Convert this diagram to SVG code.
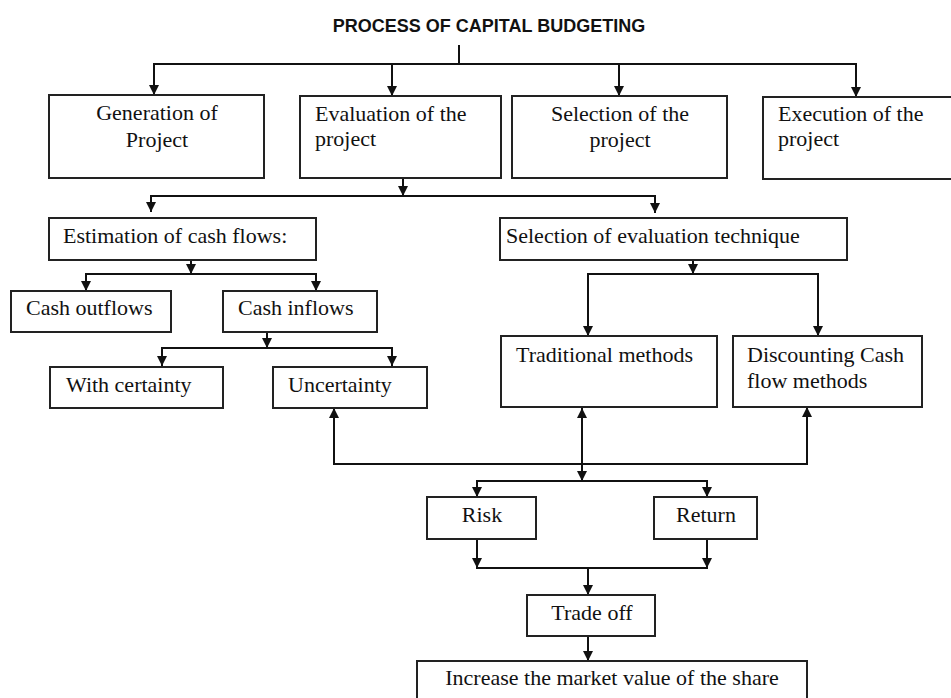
<svg xmlns="http://www.w3.org/2000/svg" width="951" height="698" viewBox="0 0 951 698">
<defs>
<marker id="ah" viewBox="0 0 10 10" refX="10" refY="5" markerWidth="10" markerHeight="10" markerUnits="userSpaceOnUse" orient="auto-start-reverse">
<path d="M0,0 L10,5 L0,10 z" fill="#111"/>
</marker>
<style>
.box{fill:#fff;stroke:#222;stroke-width:2}
.t{font-family:"Liberation Serif","Times New Roman",serif;font-size:22px;fill:#111}
.c{text-anchor:middle}
.ln{fill:none;stroke:#111;stroke-width:2}
.ar{fill:none;stroke:#111;stroke-width:2;marker-end:url(#ah)}
.title{font-family:"Liberation Sans",Arial,sans-serif;font-size:18px;font-weight:bold;fill:#111;text-anchor:middle}
</style>
</defs>
<rect width="951" height="698" fill="#fff"/>
<text class="title" x="489" y="32">PROCESS OF CAPITAL BUDGETING</text>

<g id="connectors">
<line class="ln" x1="459" y1="45" x2="459" y2="64"/>
<line class="ln" x1="153" y1="64" x2="857" y2="64"/>
<line class="ar" x1="154" y1="64" x2="154" y2="95"/>
<line class="ar" x1="392" y1="64" x2="392" y2="96"/>
<line class="ar" x1="619" y1="64" x2="619" y2="96"/>
<line class="ar" x1="856" y1="64" x2="856" y2="97"/>

<line class="ar" x1="403" y1="178" x2="403" y2="196"/>
<line class="ln" x1="150" y1="196" x2="656" y2="196"/>
<line class="ar" x1="151" y1="196" x2="151" y2="212"/>
<line class="ar" x1="655" y1="196" x2="655" y2="213"/>

<line class="ar" x1="191" y1="260" x2="191" y2="274"/>
<line class="ln" x1="85" y1="274" x2="317" y2="274"/>
<line class="ar" x1="86" y1="274" x2="86" y2="291"/>
<line class="ar" x1="316" y1="274" x2="316" y2="291"/>

<line class="ar" x1="267" y1="332" x2="267" y2="348"/>
<line class="ln" x1="161" y1="348" x2="393" y2="348"/>
<line class="ar" x1="162" y1="348" x2="162" y2="366"/>
<line class="ar" x1="392" y1="348" x2="392" y2="366"/>

<line class="ar" x1="693" y1="260" x2="693" y2="274"/>
<line class="ln" x1="587" y1="274" x2="819" y2="274"/>
<line class="ar" x1="588" y1="274" x2="588" y2="336"/>
<line class="ar" x1="818" y1="274" x2="818" y2="336"/>

<line class="ar" x1="334" y1="464" x2="334" y2="408"/>
<line class="ln" x1="333" y1="464" x2="808" y2="464"/>
<line class="ar" x1="807" y1="464" x2="807" y2="407"/>
<line class="ar" x1="582" y1="443" x2="582" y2="408"/>
<line class="ar" x1="582" y1="443" x2="582" y2="481"/>

<line class="ln" x1="476" y1="481" x2="708" y2="481"/>
<line class="ar" x1="477" y1="481" x2="477" y2="497"/>
<line class="ar" x1="707" y1="481" x2="707" y2="497"/>

<line class="ar" x1="477" y1="539" x2="477" y2="568"/>
<line class="ar" x1="707" y1="539" x2="707" y2="568"/>
<line class="ln" x1="476" y1="568" x2="708" y2="568"/>
<line class="ar" x1="588" y1="568" x2="588" y2="595"/>
<line class="ar" x1="588" y1="636" x2="588" y2="661"/>
</g>

<g id="generation">
<rect class="box" x="49" y="95" width="215" height="83"/>
<text class="t c" x="157" y="120">Generation of</text>
<text class="t c" x="157" y="147">Project</text>
</g>
<g id="evaluation">
<rect class="box" x="300" y="96" width="201" height="82"/>
<text class="t" x="315" y="121">Evaluation of the</text>
<text class="t" x="315" y="146">project</text>
</g>
<g id="selection">
<rect class="box" x="512" y="96" width="215" height="82"/>
<text class="t c" x="620" y="121">Selection of the</text>
<text class="t c" x="620" y="147">project</text>
</g>
<g id="execution">
<rect class="box" x="763" y="97" width="195" height="82"/>
<text class="t" x="778" y="121">Execution of the</text>
<text class="t" x="778" y="146">project</text>
</g>

<g id="estimation">
<rect class="box" x="49" y="218" width="267" height="42"/>
<text class="t" x="63" y="243">Estimation of cash flows:</text>
</g>
<g id="technique">
<rect class="box" x="500" y="218" width="347" height="42"/>
<text class="t" x="506" y="243">Selection of evaluation technique</text>
</g>

<g id="outflows">
<rect class="box" x="11" y="291" width="160" height="41"/>
<text class="t" x="26" y="315">Cash outflows</text>
</g>
<g id="inflows">
<rect class="box" x="223" y="291" width="154" height="41"/>
<text class="t" x="238" y="315">Cash inflows</text>
</g>

<g id="certainty">
<rect class="box" x="50" y="367" width="173" height="41"/>
<text class="t" x="66" y="392">With certainty</text>
</g>
<g id="uncertainty">
<rect class="box" x="273" y="367" width="154" height="41"/>
<text class="t" x="288" y="392">Uncertainty</text>
</g>

<g id="traditional">
<rect class="box" x="501" y="336" width="216" height="71"/>
<text class="t" x="516" y="362">Traditional methods</text>
</g>
<g id="discounting">
<rect class="box" x="733" y="336" width="189" height="71"/>
<text class="t" x="747" y="362">Discounting Cash</text>
<text class="t" x="747" y="388">flow methods</text>
</g>

<g id="risk">
<rect class="box" x="427" y="497" width="109" height="42"/>
<text class="t c" x="482" y="522">Risk</text>
</g>
<g id="return">
<rect class="box" x="654" y="497" width="103" height="42"/>
<text class="t c" x="706" y="522">Return</text>
</g>

<g id="tradeoff">
<rect class="box" x="527" y="595" width="128" height="41"/>
<text class="t c" x="592" y="620">Trade off</text>
</g>
<g id="increase">
<rect class="box" x="417" y="661" width="390" height="45"/>
<text class="t c" x="612" y="685">Increase the market value of the share</text>
</g>
</svg>
